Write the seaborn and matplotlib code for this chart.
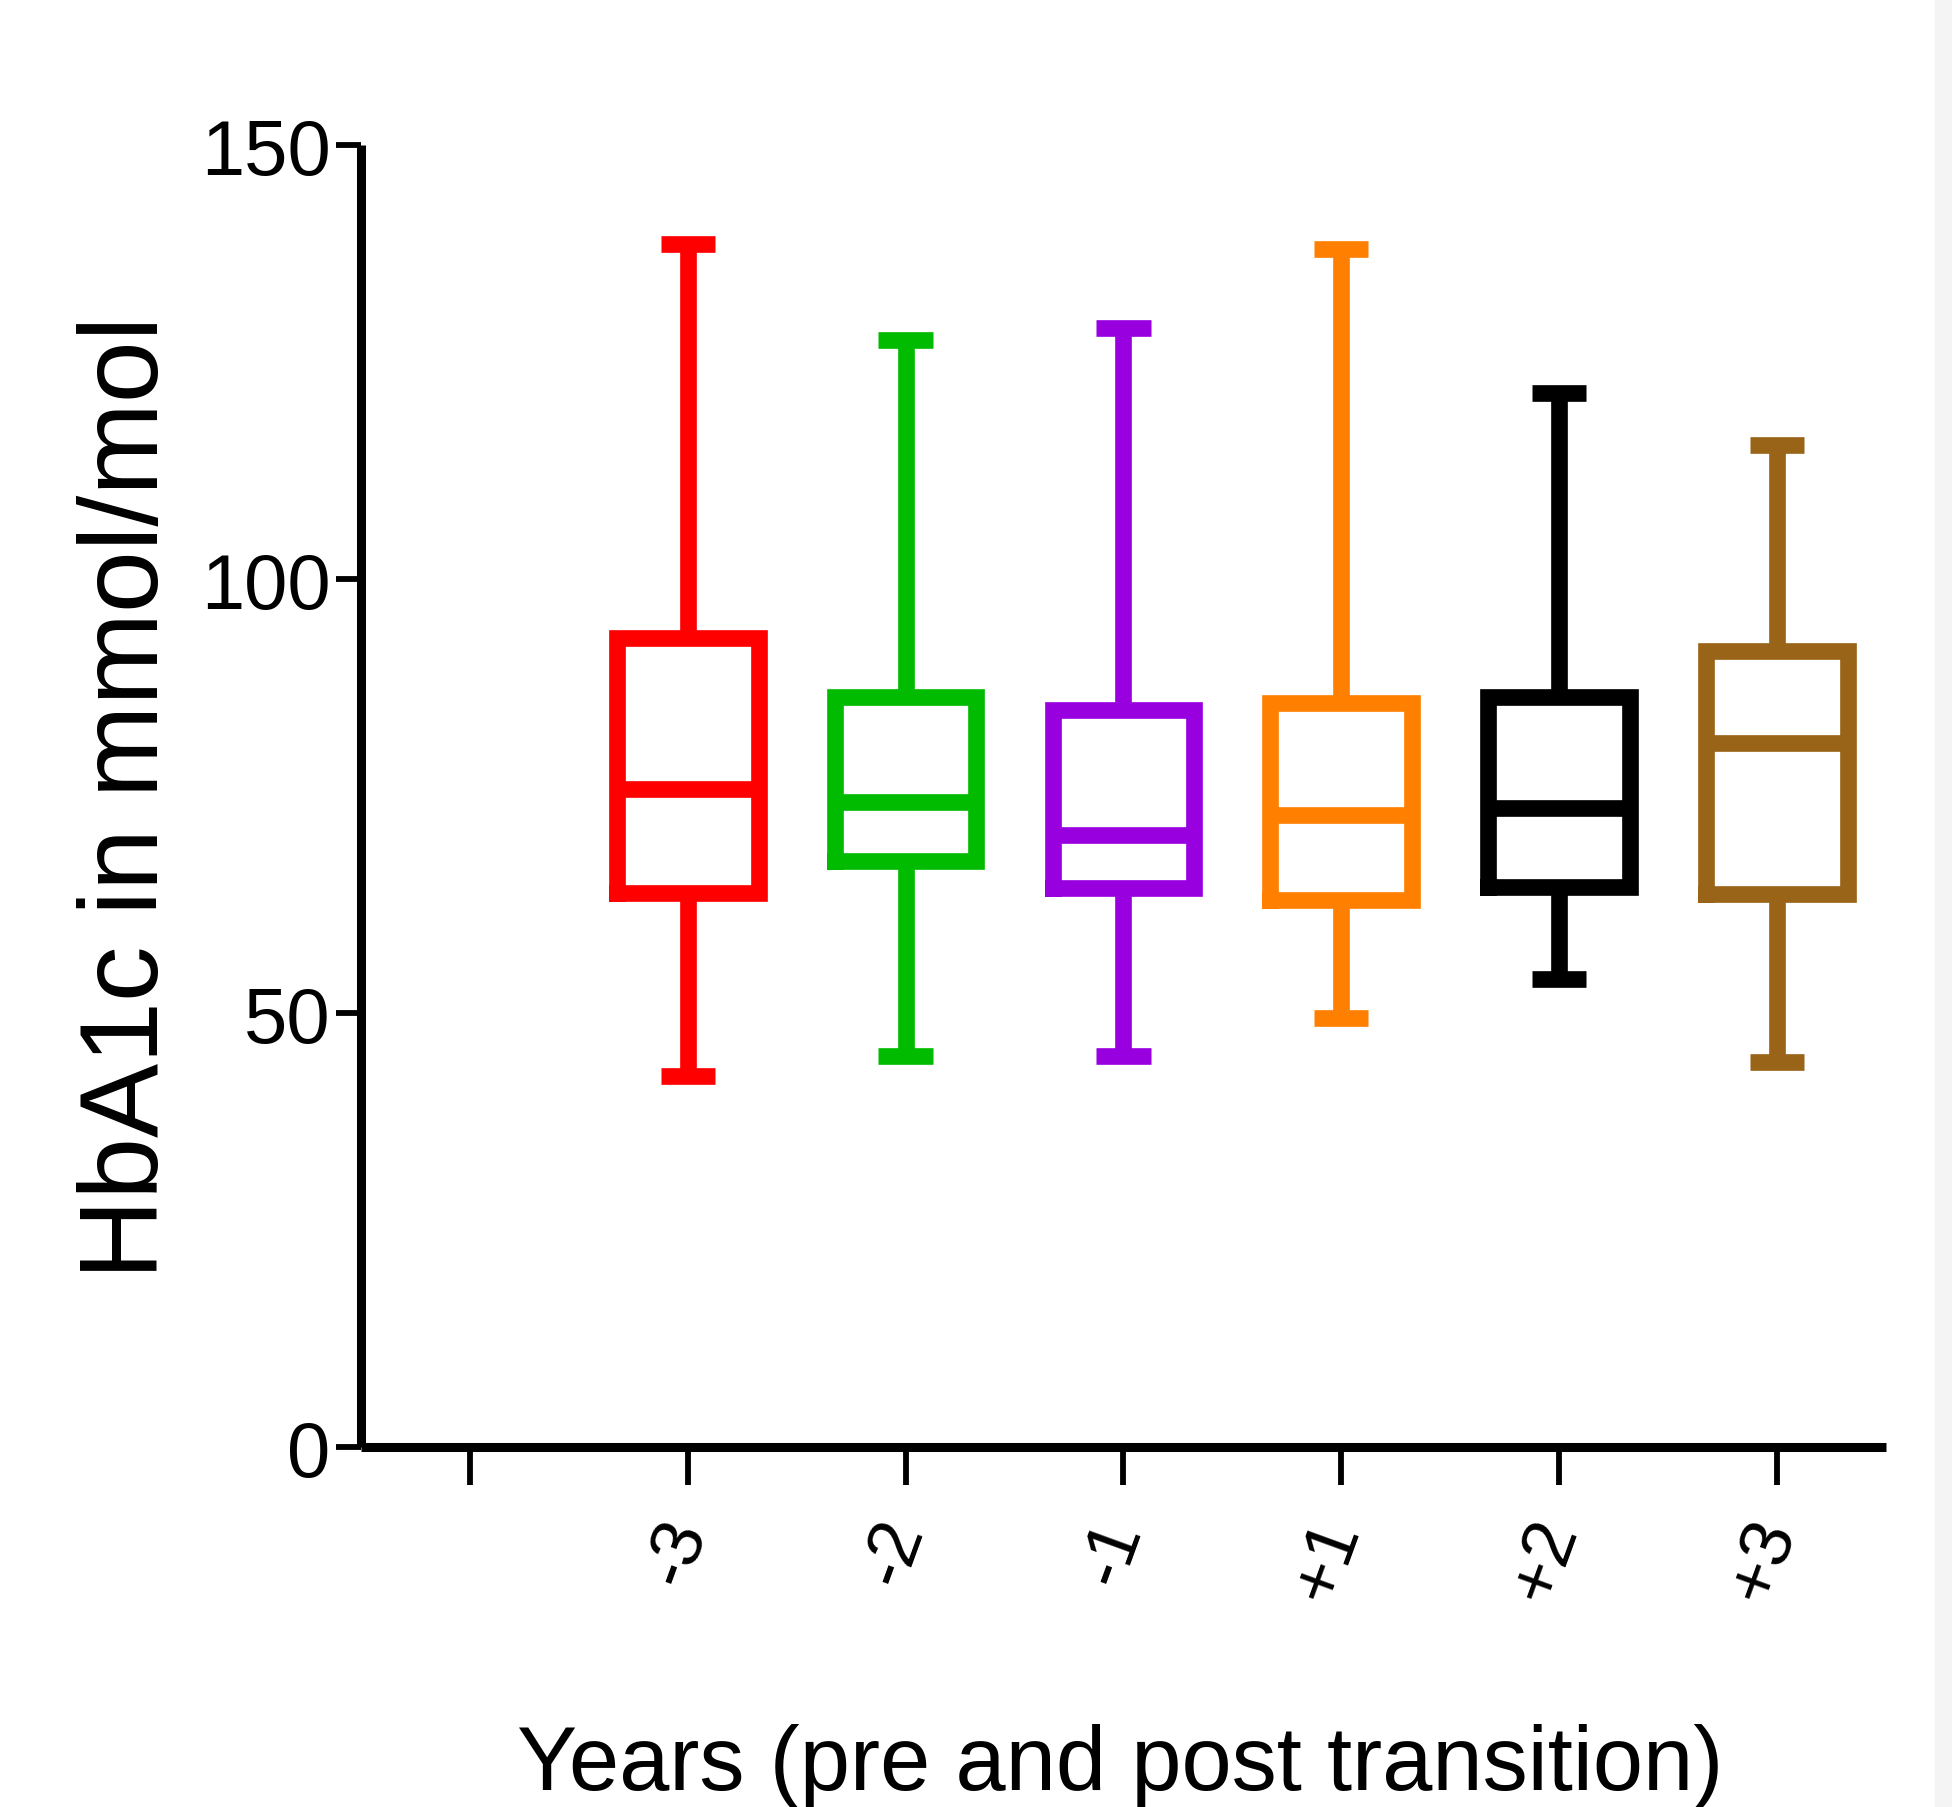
import matplotlib
matplotlib.use("Agg")
import matplotlib.pyplot as plt
from matplotlib.patches import Rectangle
import seaborn as sns
import pandas as pd

# ---- data (five-number summaries) ----
categories = ["-3", "-2", "-1", "+1", "+2", "+3"]
whisker_low = [42.8, 45.1, 45.1, 49.5, 54.0, 44.4]
q1 = [63.9, 67.6, 64.4, 63.0, 64.6, 63.8]
median = [75.9, 74.4, 70.5, 72.8, 73.6, 81.1]
q3 = [93.2, 86.5, 84.9, 85.7, 86.5, 91.7]
whisker_high = [138.7, 127.6, 129.0, 138.1, 121.5, 115.5]
colors = ["#FF0000", "#00BB00", "#9900E0", "#FF7F00", "#000000", "#996418"]
order = [""] + categories
yticks = [0, 50, 100, 150]

rows = []
for i, c in enumerate(categories):
    for v in (whisker_low[i], q1[i], median[i], q3[i], whisker_high[i]):
        rows.append({"year": c, "hba1c": v})
df = pd.DataFrame(rows)

sns.set_theme(style="white")
plt.rcParams["font.family"] = ["Liberation Sans", "DejaVu Sans"]
plt.rcParams["text.color"] = "black"
plt.rcParams["axes.labelcolor"] = "black"

fig = plt.figure(figsize=(19.52, 18.08), dpi=100)
fig.patch.set_facecolor("white")
fig.patches.append(Rectangle((1935 / 1952, 0), 1 - 1935 / 1952, 1,
                             transform=fig.transFigure, color="#F4F4F4", zorder=0))
ax = fig.add_axes([0.185, 0.199, 0.966 - 0.185, 0.919 - 0.199])
ax.set_facecolor("white")

sns.boxplot(data=df, x="year", y="hba1c", hue="year", order=order,
            hue_order=categories, palette=colors, fill=False, legend=False,
            width=0.65, linewidth=12, whis=(0, 100), showfliers=False,
            capwidths=0.25,
            boxprops={"solid_joinstyle": "miter", "solid_capstyle": "projecting"},
            capprops={"solid_capstyle": "butt"},
            whiskerprops={"solid_capstyle": "butt"},
            medianprops={"solid_capstyle": "butt"},
            ax=ax)

ax.set_xlim(-0.5, 6.5)
ax.set_ylim(0, 150)
ax.set_yticks(yticks)
ax.set_yticklabels([str(t) for t in yticks])

for s in ["top", "right"]:
    ax.spines[s].set_visible(False)
for s in ["left", "bottom"]:
    ax.spines[s].set_linewidth(6.5)
    ax.spines[s].set_color("black")
    ax.spines[s].set_capstyle("butt")

ax.tick_params(axis="y", length=18, width=4.2, pad=4, labelsize=56, colors="black",
               left=True, direction="out")
ax.tick_params(axis="x", length=27, width=4.2, pad=26, labelsize=52, colors="black",
               bottom=True, direction="out")
for lab in ax.get_xticklabels():
    lab.set_rotation(70)
    lab.set_rotation_mode("anchor")
    lab.set_ha("right")
    lab.set_va("center")

ax.set_xlabel("Years (pre and post transition)", fontsize=65, color="black")
ax.set_ylabel("HbA1c in mmol/mol", fontsize=80, color="black")
ax.xaxis.set_label_coords(0.498, -0.212)
ax.yaxis.set_label_coords(-0.118, 0.5)

fig.savefig("out.png", dpi=100)
